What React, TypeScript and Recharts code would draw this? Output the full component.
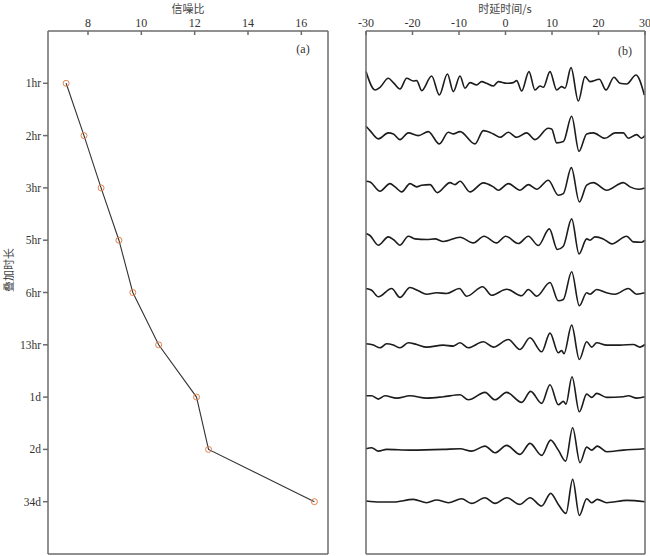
import { LineChart, Line, XAxis, YAxis } from "recharts";

// (a) 叠加时长 vs 信噪比
const durations = ["1hr", "2hr", "3hr", "5hr", "6hr", "13hr", "1d", "2d", "34d"];
const snr = [7.18, 7.85, 8.49, 9.16, 9.68, 10.65, 12.07, 12.52, 16.49];
const snrTicks = [8, 10, 12, 14, 16];

// (b) 互相关波形，按峰谷读出的 [时延 s, 振幅]
const lagTicks = [-30, -20, -10, 0, 10, 20, 30];

const trace1hr = [
  [-30, 11.7], [-28.06, -6.7], [-26.99, -4], [-25.2, 5], [-24.12, 0.7], [-22.69, -5.7],
  [-21.25, 5], [-19.82, 2.3], [-19.1, 2.7], [-18.03, -7.3], [-15.88, 7.3], [-14.23, -11.7],
  [-12.5, 9.3], [-11.22, -8.3], [-9.78, 7.3], [-8.71, -5], [-7.63, 0.7], [-6.2, -1.7],
  [-5.13, 1.7], [-4.05, 0], [-2.62, -2.7], [-1.54, 1.7], [0.25, 0], [1.68, 0.7], [2.4, 2.7],
  [3.48, -7.7], [5.05, 11.7], [6.34, -6.7], [7.42, -2.7], [8.14, -4], [9.57, 11.7],
  [11.0, -6.7], [12.08, -3.3], [12.8, -5], [14.09, 15.7], [15.66, -17.7], [17.1, 6.7],
  [18.17, 1.7], [20.18, 4], [21.61, -6.7], [23.33, 6], [24.62, 0], [26.06, -0.7],
  [28.07, 8.3], [29.86, -11.7],
];
const trace2hr = [
  [-30, 9.3], [-29.14, 5], [-27.35, -3.3], [-25.2, 2.7], [-24.12, 1.7], [-22.69, -4],
  [-20.9, 2.7], [-18.75, 0], [-16.6, 4], [-14.23, -8.3], [-12.29, 3.3], [-11.22, 1.7],
  [-9.78, 4], [-6.56, -8.3], [-4.77, 5], [-2.62, 1.7], [-1.18, -1.7], [0.61, 3.3],
  [2.4, -1.7], [4.55, 2.7], [6.34, -4], [9.21, 7.3], [9.93, 6.7], [11.0, -7.3],
  [12.44, -6], [14.23, 19.3], [15.81, -15.7], [17.46, 1.7], [18.89, 2.7], [21.4, -2.7],
  [23.55, 2.7], [25.34, 2.7], [26.42, -2.7], [28.21, 1], [29.28, -2.7], [30, 0],
];
const trace3hr = [
  [-30, 6.7], [-29.14, 6], [-26.99, -3.3], [-24.84, 4.3], [-23.76, 1], [-22.33, -4],
  [-20.54, 4.3], [-19.1, 1], [-18.03, 2.7], [-16.24, 3.3], [-14.66, -4.7], [-11.93, 5.3],
  [-10.86, 3.3], [-9.78, 6.7], [-7.63, -4], [-4.77, 5], [-2.62, 1], [-1.54, -2.3],
  [0.61, 4.3], [3.12, -2.3], [4.91, 3.3], [6.7, -1.3], [9.21, 7.7], [11.36, -7.3],
  [12.44, -5.7], [14.16, 20.3], [15.88, -14], [17.46, 2.7], [18.89, 5.3], [21.76, -2.3],
  [25.34, 5.3], [26.78, 1], [28.57, -1.3], [30, 0],
];
const trace5hr = [
  [-30, 6.7], [-29.14, 4.7], [-27.35, -5], [-25.2, 3.3], [-24.12, 0.7], [-22.69, -5],
  [-20.9, 4], [-19.46, 1.3], [-16.95, 0.7], [-15.16, 1.3], [-13.37, -1.3], [-9.78, 3],
  [-6.92, -2.7], [-4.62, 4], [-1.9, -2.7], [0.04, 4], [2.76, -3.3], [4.91, 4],
  [7.06, -5.3], [9.43, 11.3], [11.15, -9.3], [12.44, -6], [14.23, 21.3], [15.81, -13.7],
  [17.46, 1.3], [18.17, 0], [19.25, 3.3], [21.04, 1.3], [22.83, -3.7], [26.06, 4],
  [27.49, -1.7], [29.28, -2], [30, 0],
];
const trace6hr = [
  [-30, 4], [-28.78, 2.3], [-27.35, -4.3], [-24.48, 4], [-22.69, -5], [-20.54, 5],
  [-18.75, 1.7], [-16.95, -1.7], [-14.8, -0.3], [-12.65, -1], [-9.93, 4], [-8.35, -3.7],
  [-4.91, 5.7], [-2.97, -2.7], [0.25, 3.3], [3.48, -3.3], [4.91, 3], [6.7, -3.7],
  [9.57, 10], [11.36, -8.3], [12.44, -7], [14.23, 20.7], [15.88, -13.3], [17.46, -0.3],
  [18.17, -1.7], [19.61, 3], [21.76, -0.3], [23.55, -1.7], [26.42, 4], [28.21, -1.7],
  [30, -0.3],
];
const trace13hr = [
  [-30, 1], [-28.42, -0.3], [-26.99, -3], [-25.56, 1], [-24.12, -0.3], [-22.69, -3],
  [-20.9, 2], [-19.1, 0.3], [-16.95, -2.3], [-13.37, -0.3], [-11.22, -1.3], [-9.78, 2],
  [-7.99, -3], [-4.77, 3], [-2.62, -2.3], [0.61, 5.3], [3.12, -4.7], [5.27, 7],
  [7.78, -7], [9.57, 11.7], [11.36, -8], [12.08, -5.7], [12.58, -9], [14.23, 19.7],
  [15.88, -14.7], [17.46, 3], [18.53, -2.3], [19.61, 2], [21.76, -0.3], [24.62, -0.3],
  [27.49, 0.3], [28.92, -2.3], [30, 0.3],
];
const trace1d = [
  [-30, 1.3], [-28.78, 1.3], [-27.35, -2], [-25.92, 1.3], [-23.41, -1], [-20.54, 1.3],
  [-16.95, -1], [-13.37, 0.3], [-9.78, 2.3], [-7.99, -2.7], [-4.41, 4.7], [-2.26, -2.7],
  [0.25, 4.7], [3.48, -5.3], [5.41, 5.7], [7.78, -6.3], [9.57, 12.3], [11.36, -7.7],
  [12.44, -4.3], [13.01, -7], [14.3, 20.3], [15.88, -14.7], [17.46, 3], [18.53, -0.3],
  [19.61, 3.7], [21.76, -0.3], [25.34, 0.3], [26.42, 1.3], [28.21, -1], [30, 0.3],
];
const trace2d = [
  [-30, 0.7], [-28.78, 1.7], [-27.35, -1.7], [-25.56, 0], [-20.54, -0.7], [-13.37, 0],
  [-9.78, 0.7], [-7.28, -1.7], [-4.41, 3.3], [-2.26, -3.3], [0.25, 4], [3.12, -5],
  [5.27, 6], [7.78, -6], [9.71, 9.3], [11.36, -0.7], [12.94, -11.7], [14.44, 21.7],
  [16.02, -13.3], [17.46, 2.3], [18.53, -0.7], [19.75, 3.3], [21.76, -2.3], [25.34, -0.7],
  [30, 0.7],
];
const trace34d = [
  [-30, 0.7], [-26.99, -0.3], [-24.12, -0.3], [-19.82, 2.3], [-16.95, -1], [-14.8, 1.7],
  [-12.29, -1], [-9.43, 3], [-7.28, -1.7], [-4.41, 4], [-2.26, -1.7], [0.25, 4],
  [3.12, -2.7], [5.27, 4], [7.78, -4.3], [9.71, 8.3], [11.36, -2.7], [13.01, -11.7],
  [14.44, 22.3], [15.88, -13.7], [17.46, 3], [18.53, -1], [19.75, 2.3], [21.76, -1],
  [26.06, 1.3], [30, 0],
];

const traces = [trace1hr, trace2hr, trace3hr, trace5hr, trace6hr, trace13hr, trace1d, trace2d, trace34d];

// 振幅是以像素读的，换成道间距单位
const AMP_SCALE = 1 / 52.3;

const snrData = snr.map((s, i) => ({ snr: s, idx: i + 1 }));
const traceData = traces.map((tr, i) => tr.map(([t, a]) => ({ t, v: i + 1 - a * AMP_SCALE })));

const serif = "'Liberation Serif', 'DejaVu Serif', serif";
const cjk = "'Noto Sans CJK SC', sans-serif";
const frame = "#6b6b6b";
const tickFont = { fontFamily: serif, fontSize: 12, fill: "#333" };

const abs = (left: number, top: number, extra = {}) => ({
  position: "absolute" as const,
  left,
  top,
  transform: "translate(-50%, -50%)",
  whiteSpace: "nowrap" as const,
  ...extra,
});

export default function App() {
  return (
    <div style={{ position: "absolute", left: 0, top: 0, width: 650, height: 556, background: "#fff" }}>
      <div style={{ position: "absolute", left: 0, top: 0 }}>
        <LineChart width={340} height={556} margin={{ top: 0, left: 0, right: 11, bottom: 1 }}>
          <XAxis
            dataKey="snr"
            type="number"
            orientation="top"
            domain={[6.5, 17]}
            ticks={snrTicks}
            interval={0}
            height={31}
            tickSize={-4}
            tickMargin={8}
            tick={tickFont}
            stroke={frame}
            strokeWidth={1.5}
          />
          <XAxis xAxisId="fb" type="number" orientation="bottom" domain={[0, 1]} height={1} tick={false} tickLine={false} stroke={frame} strokeWidth={1.5} />
          <YAxis
            dataKey="idx"
            type="number"
            domain={[0, 10]}
            reversed
            ticks={[1, 2, 3, 4, 5, 6, 7, 8, 9]}
            interval={0}
            tickFormatter={(v) => durations[v - 1]}
            width={48}
            tickSize={5}
            tickMargin={2}
            tick={{ ...tickFont, fontSize: 11.5 }}
            stroke={frame}
            strokeWidth={1.5}
          />
          <YAxis yAxisId="fr" type="number" orientation="right" domain={[0, 1]} width={1} tick={false} tickLine={false} stroke={frame} strokeWidth={1.5} />
          <Line
            data={snrData}
            dataKey="idx"
            type="linear"
            stroke="#333"
            strokeWidth={1.1}
            dot={{ r: 3, stroke: "#e0824f", strokeWidth: 1, fill: "none" }}
            isAnimationActive={false}
          />
        </LineChart>
      </div>

      <div style={{ position: "absolute", left: 340, top: 0 }}>
        <LineChart width={310} height={556} margin={{ top: 0, left: 0, right: 4, bottom: 1 }} style={{ overflow: "visible" }}>
          <XAxis
            dataKey="t"
            type="number"
            orientation="top"
            domain={[-30, 30]}
            ticks={lagTicks}
            interval={0}
            height={31}
            tickSize={-4}
            tickMargin={8}
            tick={tickFont}
            stroke={frame}
            strokeWidth={1.5}
          />
          <XAxis xAxisId="fb" type="number" orientation="bottom" domain={[0, 1]} height={1} tick={false} tickLine={false} stroke={frame} strokeWidth={1.5} />
          <YAxis type="number" domain={[0, 10]} reversed width={26} tick={false} tickLine={false} stroke={frame} strokeWidth={1.5} />
          <YAxis yAxisId="fr" type="number" orientation="right" domain={[0, 1]} width={1} tick={false} tickLine={false} stroke={frame} strokeWidth={1.5} />
          {traceData.map((d, i) => (
            <Line
              key={durations[i]}
              data={d}
              dataKey="v"
              type="monotone"
              stroke="#1c1c1c"
              strokeWidth={1.6}
              dot={false}
              isAnimationActive={false}
            />
          ))}
        </LineChart>
      </div>

      <div style={abs(188, 8, { fontFamily: cjk, fontSize: 11, color: "#444" })}>信噪比</div>
      <div style={abs(505, 8, { fontFamily: cjk, fontSize: 11, color: "#444" })}>时延时间/s</div>
      <div style={abs(8, 270, { fontFamily: cjk, fontSize: 11, color: "#444", transform: "translate(-50%, -50%) rotate(-90deg)" })}>
        叠加时长
      </div>
      <div style={abs(303, 49, { fontFamily: serif, fontSize: 12, color: "#333" })}>(a)</div>
      <div style={abs(625, 51, { fontFamily: serif, fontSize: 12, color: "#333" })}>(b)</div>
    </div>
  );
}
